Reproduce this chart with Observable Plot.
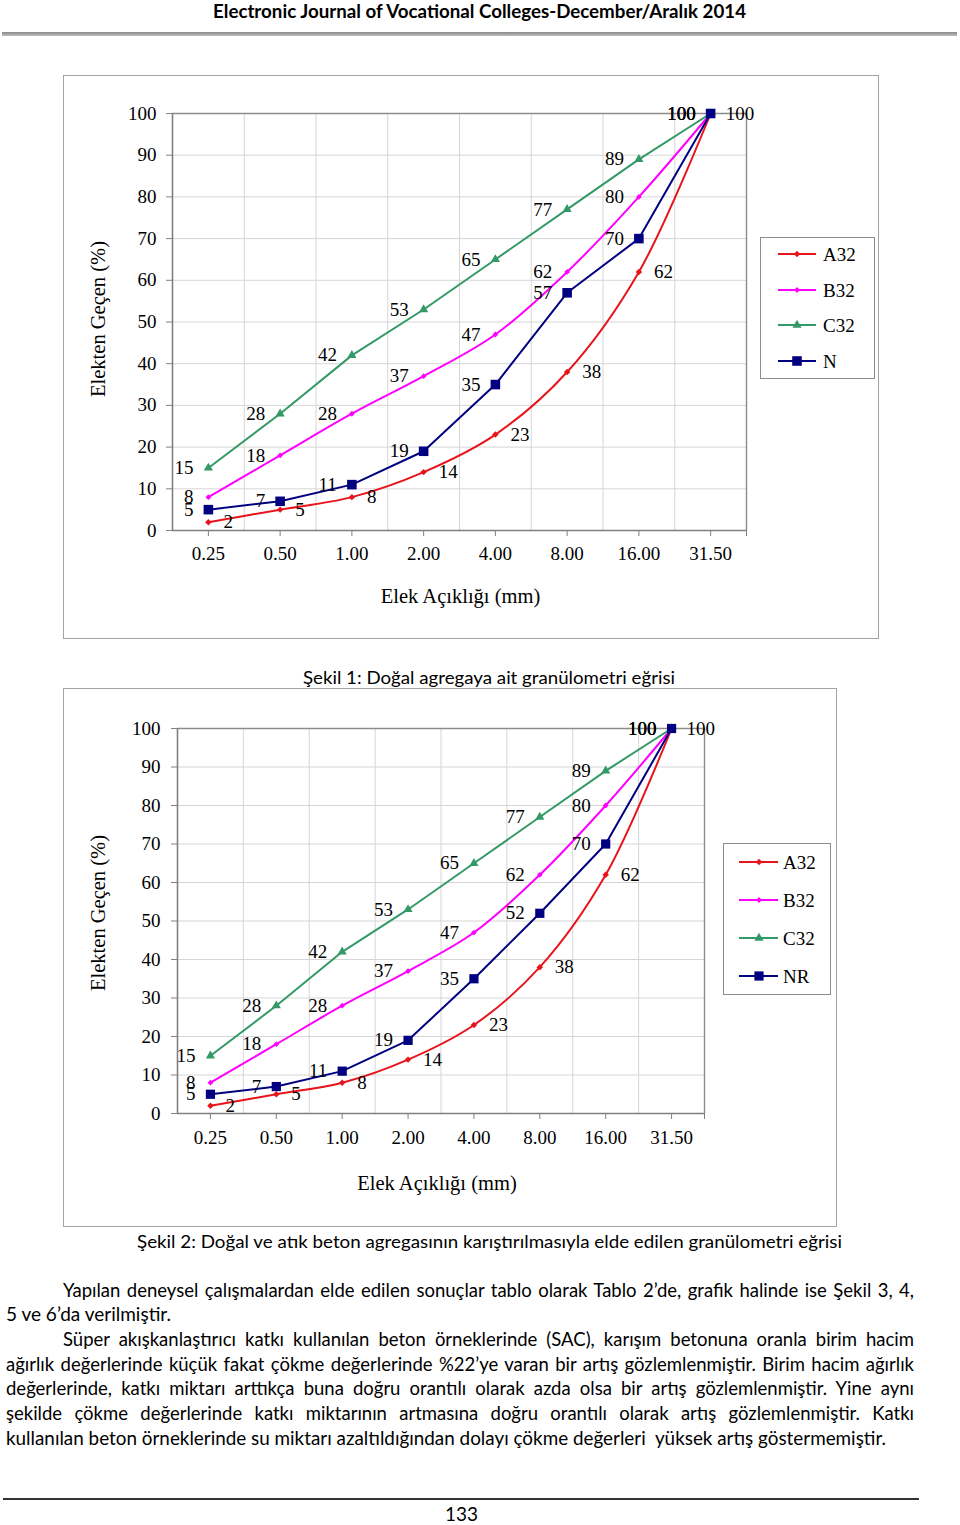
<!DOCTYPE html>
<html><head><meta charset="utf-8">
<script src="https://cdn.jsdelivr.net/npm/d3@7"></script>
<script src="https://cdn.jsdelivr.net/npm/@observablehq/plot@0.6"></script>
<style>
html,body{margin:0;padding:0;background:#fff;}
#page{position:relative;width:960px;height:1525px;overflow:hidden;background:#fff;}
.txt{position:absolute;white-space:pre;font-family:Lato,"Open Sans",sans-serif;color:#000;line-height:20px;height:20px;transform-origin:0 50%;}
.frame{position:absolute;border:1.5px solid #a3a3a3;box-sizing:border-box;}
.holder{position:absolute;}
.holder svg{display:block;overflow:visible;max-width:none;}
</style></head><body><div id="page"></div>
<script>
// ---------- data ----------
const sieveLabels = ["0.25","0.50","1.00","2.00","4.00","8.00","16.00","31.50"];
const yTicks = [0,10,20,30,40,50,60,70,80,90,100];
const seriesNames1 = ["A32","B32","C32","N"];
const seriesNames2 = ["A32","B32","C32","NR"];
const a32 = [2,5,8,14,23,38,62,100];
const b32 = [8,18,28,37,47,62,80,100];
const c32 = [15,28,42,53,65,77,89,100];
const n1  = [5,7,11,19,35,57,70,100];
const nr2 = [5,7,11,19,35,52,70,100];
const xTitle = "Elek Açıklığı (mm)";
const yTitle = "Elekten Geçen (%)";
const headerText = "Electronic Journal of Vocational Colleges-December/Aralık 2014";
const caption1 = "Şekil 1: Doğal agregaya ait granülometri eğrisi";
const caption2 = "Şekil 2: Doğal ve atık beton agregasının karıştırılmasıyla elde edilen granülometri eğrisi";
const paragraphLines = [
  "Yapılan deneysel çalışmalardan elde edilen sonuçlar tablo olarak Tablo 2’de, grafik halinde ise Şekil 3, 4,",
  "5 ve 6’da verilmiştir.",
  "Süper akışkanlaştırıcı katkı kullanılan beton örneklerinde (SAC), karışım betonuna oranla birim hacim",
  "ağırlık değerlerinde küçük fakat çökme değerlerinde %22’ye varan bir artış gözlemlenmiştir. Birim hacim ağırlık",
  "değerlerinde, katkı miktarı arttıkça buna doğru orantılı olarak azda olsa bir artış gözlemlenmiştir. Yine aynı",
  "şekilde çökme değerlerinde katkı miktarının artmasına doğru orantılı olarak artış gözlemlenmiştir. Katkı",
  "kullanılan beton örneklerinde su miktarı azaltıldığından dolayı çökme değerleri  yüksek artış göstermemiştir."
];
const pageNumber = "133";

// ---------- styles ----------
const styles = {
  A32: {color:"#e8141c", symbol:"diamond2", r:2.9, curve:"catmull-rom", side:"right"},
  B32: {color:"#ff00ff", symbol:"diamond2", r:2.6, curve:"catmull-rom", side:"left"},
  C32: {color:"#339966", symbol:"triangle", r:3.4, curve:"linear", side:"left"},
  N:   {color:"#000080", symbol:"square", r:5.4, curve:"linear", side:"left"},
  NR:  {color:"#000080", symbol:"square", r:5.2, curve:"linear", side:"left"}
};
const SERIF = '"Liberation Serif","Times New Roman",serif';
const page = document.getElementById("page");

// ---------- text helpers ----------
function addText(str, o) {
  const el = document.createElement("div");
  el.className = "txt";
  el.textContent = str;
  el.style.fontSize = (o.size || 17) + "px";
  el.style.fontWeight = o.weight || 400;
  if (o.family) el.style.fontFamily = o.family;
  page.appendChild(el);
  const w = el.getBoundingClientRect().width;
  const L = o.left != null ? o.left : o.cx - o.width / 2;
  el.style.left = L + "px";
  el.style.top = (o.cy - 10) + "px";
  if (o.justify && w < o.width) {
    const n = (str.match(/ /g) || []).length;
    el.style.wordSpacing = ((o.width - w) / n) + "px";
  } else {
    el.style.transform = `scaleX(${o.width / w})`;
  }
  return el;
}
function addBox(cls, left, top, w, h, extra) {
  const d = document.createElement("div");
  d.className = cls;
  Object.assign(d.style, {left: left + "px", top: top + "px", width: w + "px", height: h + "px"}, extra || {});
  page.appendChild(d);
  return d;
}

// ---------- chart ----------
function drawChart(o) {
  const idx = d3.range(sieveLabels.length);
  const bounds = idx.slice(1).map(i => i - 0.5);
  const series = o.names.map((n, k) => ({name: n, st: styles[n], rows: o.values[k].map((v, i) => ({i, v}))}));
  const marks = [
    Plot.gridY(yTicks.filter(t => t > 0 && t < 100), {stroke: "#d6d6d6", strokeOpacity: 1}),
    Plot.gridX(bounds, {stroke: "#d6d6d6", strokeOpacity: 1}),
    Plot.ruleY([100], {stroke: "#8c8c8c", strokeWidth: 1.4}),
    Plot.ruleX([idx.length - 0.5], {stroke: "#8c8c8c", strokeWidth: 1.4}),
    Plot.axisY(yTicks, {tickSize: 6, tickPadding: o.padY, stroke: "#808080", label: null, fontSize: 19}),
    Plot.axisX(idx, {tickFormat: i => sieveLabels[i], tickSize: 6, tickPadding: o.padX, stroke: "#808080", label: null, fontSize: 19}),
    Plot.axisX([idx.length - 0.5], {tickFormat: () => "", tickSize: 6, stroke: "#808080", label: null}),
    Plot.ruleX([-0.5], {stroke: "#808080", strokeWidth: 1.6}),
    Plot.ruleY([0], {stroke: "#808080", strokeWidth: 1.6})
  ];
  for (const s of series) {
    marks.push(Plot.line(s.rows, {x: "i", y: "v", stroke: s.st.color, strokeWidth: 2, curve: s.st.curve}));
  }
  for (const s of series) {
    marks.push(Plot.dot(s.rows, {x: "i", y: "v", symbol: s.st.symbol, r: s.st.r, fill: s.st.color, stroke: "none"}));
  }
  for (const s of series) {
    const right = s.st.side === "right";
    marks.push(Plot.text(s.rows, {x: "i", y: "v", text: d => String(d.v), textAnchor: right ? "start" : "end", dx: right ? 15 : -15, fontSize: 19, fill: "#000"}));
  }
  marks.push(Plot.text([yTitle], {frameAnchor: "left", textAnchor: "middle", dx: o.yDx, dy: o.yDy, rotate: -90, fontSize: 20.5, fill: "#000"}));
  marks.push(Plot.text([xTitle], {frameAnchor: "bottom", textAnchor: "middle", dx: o.xDx, dy: o.xDy, fontSize: 20.5, fill: "#000"}));

  const svg = Plot.plot({
    width: o.width, height: o.height,
    marginLeft: o.ml, marginRight: o.mr, marginTop: o.mt, marginBottom: o.mb,
    x: {type: "linear", domain: [-0.5, idx.length - 0.5]},
    y: {domain: [0, 100]},
    style: {fontFamily: SERIF, fontSize: "19px", background: "transparent", color: "#000", overflow: "visible"},
    marks
  });
  const h = addBox("holder", o.left, o.top, o.width, o.height);
  h.appendChild(svg);

  // legend
  const L = o.legend;
  addBox("frame", L.left, L.top, L.w, L.h, {border: "1.3px solid #8c8c8c"});
  const lg = d3.select(page).append("svg")
    .style("position", "absolute").style("left", L.left + "px").style("top", L.top + "px")
    .attr("width", L.w).attr("height", L.h).style("overflow", "visible");
  const symMap = {diamond2: d3.symbolDiamond2, square: d3.symbolSquare, triangle: d3.symbolTriangle};
  series.forEach((s, k) => {
    const y = L.rows[k] - L.top;
    lg.append("line").attr("x1", L.x1 - L.left).attr("x2", L.x2 - L.left).attr("y1", y).attr("y2", y)
      .attr("stroke", s.st.color).attr("stroke-width", 2);
    lg.append("path").attr("d", d3.symbol(symMap[s.st.symbol], s.st.r * s.st.r * Math.PI)())
      .attr("transform", `translate(${L.mx - L.left},${y})`).attr("fill", s.st.color);
    lg.append("text").attr("x", L.tx - L.left).attr("y", y).attr("dy", "0.35em")
      .attr("font-family", SERIF).attr("font-size", 19).attr("fill", "#000").text(s.name);
  });
}

// ---------- page ----------
addText(headerText, {cx: 479.5, cy: 11, width: 533, size: 18, weight: 700});
addBox("holder", 2, 32, 955, 4, {background: "linear-gradient(#8a8a8a,#bdbdbd)"});

addBox("frame", 63, 75, 816, 564);
drawChart({
  names: seriesNames1, values: [a32, b32, c32, n1],
  left: 63, top: 75, width: 815, height: 563,
  ml: 109, mr: 132, mt: 38, mb: 108, padX: 10, padY: 10,
  yDx: -74, yDy: -3, xDx: 1, xDy: 72,
  legend: {left: 760, top: 237, w: 115, h: 142, rows: [254, 290, 325, 361], x1: 778, x2: 816, mx: 797, tx: 823}
});
addText(caption1, {cx: 489, cy: 677, width: 372, size: 18});

addBox("frame", 63, 688, 774, 539);
drawChart({
  names: seriesNames2, values: [a32, b32, c32, nr2],
  left: 63, top: 688, width: 773, height: 538,
  ml: 114, mr: 132, mt: 40, mb: 113, padX: 11, padY: 11,
  yDx: -79, yDy: -8, xDx: -4, xDy: 76,
  legend: {left: 723, top: 843, w: 108, h: 152, rows: [862, 900, 938, 976], x1: 739, x2: 778, mx: 759, tx: 783}
});
addText(caption2, {cx: 489, cy: 1241, width: 705, size: 18});

const paraSpec = [
  {left: 63, width: 851, justify: true, cy: 1290},
  {left: 6, width: 165, cy: 1314},
  {left: 63, width: 851, justify: true, cy: 1339},
  {left: 6, width: 908, justify: true, cy: 1364},
  {left: 6, width: 908, justify: true, cy: 1388},
  {left: 6, width: 908, justify: true, cy: 1413},
  {left: 6, width: 880, cy: 1438}
];
paragraphLines.forEach((t, k) => addText(t, Object.assign({size: 18.5}, paraSpec[k])));

addBox("holder", 3, 1498, 916, 1.5, {background: "#333"});
addText(pageNumber, {cx: 461, cy: 1514, width: 33, size: 19});
</script>
</body></html>
